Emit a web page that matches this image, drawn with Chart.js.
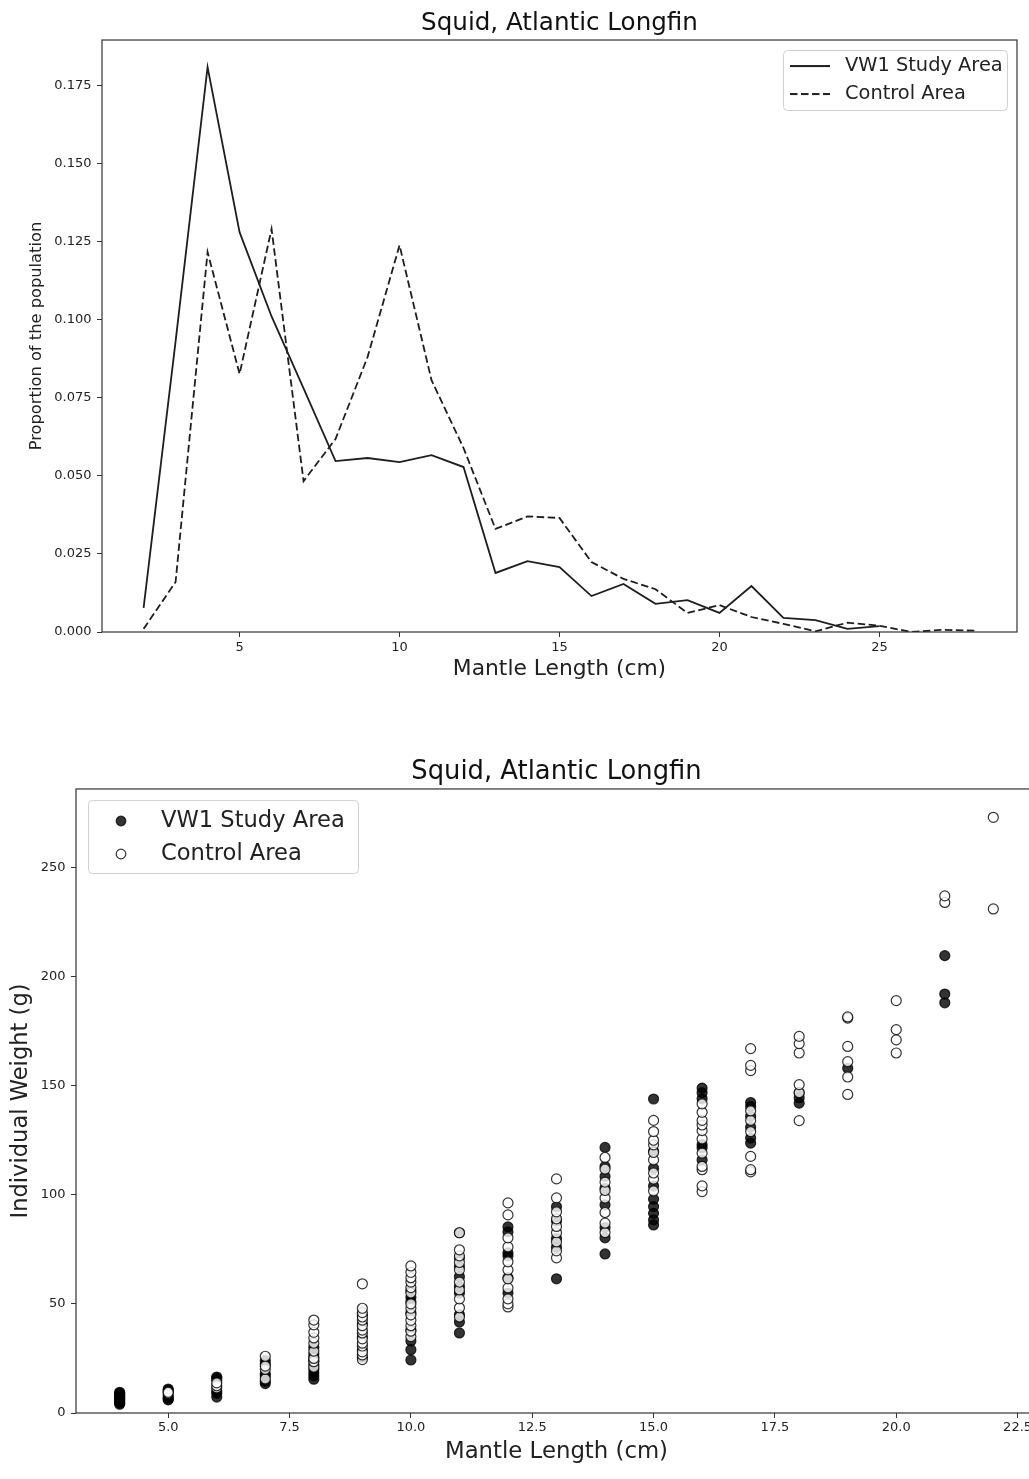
<!DOCTYPE html>
<html>
<head>
<meta charset="utf-8">
<title>Squid, Atlantic Longfin</title>
<script src="https://cdn.jsdelivr.net/npm/chart.js@4.4.1/dist/chart.umd.min.js"></script>
<style>
  html, body { margin: 0; padding: 0; background: #fff; overflow: hidden; }
  #wrap { position: relative; width: 1029px; height: 1479px; overflow: hidden; }
  #propChart { position: absolute; left: 0; top: 0; }
  #weightChart { position: absolute; left: 0; top: 740px; }
</style>
</head>
<body>
<div id="wrap">
  <canvas id="propChart" width="1029" height="700"></canvas>
  <canvas id="weightChart" width="1045" height="739"></canvas>
</div>
<script>
// length frequency (proportion of the population per cm class)
const vw1Lengths = [2, 3, 4, 5, 6, 7, 8, 9, 10, 11, 12, 13, 14, 15, 16, 17, 18, 19, 20, 21, 22, 23, 24, 25];
const vw1Prop = [0.0077, 0.093, 0.1808, 0.128, 0.101, 0.078, 0.0547, 0.0557, 0.0544, 0.0566, 0.0528, 0.0189,
    0.0227, 0.0208, 0.0115, 0.0154, 0.0090, 0.0102, 0.0061, 0.0147, 0.0045, 0.0038, 0.0010, 0.0019];
const controlLengths = [2, 3, 4, 5, 6, 7, 8, 9, 10, 11, 12, 13, 14, 15, 16, 17, 18, 19, 20, 21, 22, 23, 24, 25, 26, 27, 28];
const controlProp = [0.001, 0.016, 0.1216, 0.0826, 0.129, 0.0483, 0.0618, 0.088, 0.1238, 0.0806, 0.0589, 0.033,
    0.037, 0.0365, 0.0224, 0.017, 0.0137, 0.0061, 0.0086, 0.0048, 0.0026, 0.0002, 0.003, 0.002, 0.0, 0.0007, 0.0004];

const propXTicks = [5, 10, 15, 20, 25];
const propXLabels = ['5', '10', '15', '20', '25'];
const propYTicks = [0, 0.025, 0.05, 0.075, 0.1, 0.125, 0.15, 0.175];
const propYLabels = ['0.000', '0.025', '0.050', '0.075', '0.100', '0.125', '0.150', '0.175'];

// individual weights (g), one list per mantle length class
const weightLengths = [4, 5, 6, 7, 8, 9, 10, 11, 12, 13, 14, 15, 16, 17, 18, 19, 20, 21, 22];
const vw1Weights = [
    [4, 4.5, 5, 5.5, 6, 6.5, 7, 7.5, 8, 8.5, 9, 9.5],
    [6, 6.5, 7, 8, 10, 10.5, 11],
    [7.3, 9, 10, 15, 16, 16.5],
    [13.5, 14.5, 17, 18, 22.5, 24],
    [15.5, 17, 18.5, 20, 22, 24, 25.5, 27, 30],
    [25.5, 29, 35, 41, 45],
    [24.3, 29, 33, 38, 46, 51, 53, 56],
    [36.7, 41.7, 45, 55, 58, 62.5, 67, 71, 82.6],
    [55, 62, 72, 73.4, 83, 85.3],
    [61.5, 76, 80, 88, 94.5],
    [72.9, 80.3, 85, 95.4, 103, 108.4, 113, 121.7],
    [86.2, 88.5, 91.5, 94.6, 98, 104, 112.2, 120, 143.9],
    [116, 121.6, 123, 144, 146.8, 148.9],
    [123.7, 126, 131, 136, 140.5, 142.3],
    [142, 144.5, 146.8],
    [158],
    [],
    [188, 192, 209.6],
    []
];
const controlWeights = [
    [],
    [9, 9.5],
    [11.5, 12.5, 13.8],
    [15.6, 20, 21.5, 26],
    [21, 23.5, 25, 28.4, 32, 34.4, 37, 40.4, 42.6],
    [24.5, 26.6, 28, 30.7, 32, 34, 36.7, 38, 40, 42.6, 44, 46, 48, 59.2],
    [35, 37.5, 40, 42.5, 45, 48, 50, 55, 57.5, 60, 62, 64.5, 67.4],
    [44, 48.2, 52.3, 56.4, 60, 65.6, 69, 72, 74.8, 82.6],
    [48.6, 50, 52.3, 57.3, 61.5, 65.6, 69.3, 76.1, 80.3, 90.8, 96.3],
    [71.1, 74.3, 78.4, 82.6, 85.5, 89, 92.2, 98.6, 107.3],
    [82.7, 87, 91.9, 98.5, 102, 105.8, 111.8, 117.1],
    [101.8, 107.2, 110, 116, 119.4, 122.9, 125, 129, 134.1],
    [101.5, 104.1, 111.5, 113, 119.1, 125.6, 129.4, 132, 134.1, 137.8, 141.7],
    [110.5, 111.5, 117.6, 129, 134.1, 138.5, 156.9, 159.3, 167],
    [134, 146.8, 150.5, 165, 169.3, 172.6],
    [146, 154, 161, 168, 181, 181.5],
    [165, 171, 175.7, 189],
    [234, 237],
    [231, 273]
];

const weightXTicks = [5, 7.5, 10, 12.5, 15, 17.5, 20, 22.5];
const weightXLabels = ['5.0', '7.5', '10.0', '12.5', '15.0', '17.5', '20.0', '22.5'];
const weightYTicks = [0, 50, 100, 150, 200, 250];
const weightYLabels = ['0', '50', '100', '150', '200', '250'];

const INK = '#222';
const LINE = '#1e1e1e';
const DASH = [7.5, 3.5];
Chart.defaults.font.family = "'DejaVu Sans', sans-serif";
Chart.defaults.color = INK;

function toPoints(xs, ys) {
    return xs.map((x, i) => ({ x: x, y: ys[i] }));
}

function columnsToPoints(lengths, lists) {
    const pts = [];
    lengths.forEach((len, i) => lists[i].forEach(w => pts.push({ x: len, y: w })));
    return pts;
}

// small canvases used as legend markers
function makeMarker(fill, stroke) {
    const c = document.createElement('canvas');
    c.width = 14; c.height = 14;
    const g = c.getContext('2d');
    g.beginPath();
    g.arc(7, 7, 4.8, 0, Math.PI * 2);
    g.fillStyle = fill;
    g.fill();
    g.lineWidth = 1.2;
    g.strokeStyle = stroke;
    g.stroke();
    return c;
}

function makeLineMarker(dash) {
    const c = document.createElement('canvas');
    c.width = 40; c.height = 6;
    const g = c.getContext('2d');
    g.strokeStyle = LINE;
    g.lineWidth = 1.8;
    g.setLineDash(dash);
    g.beginPath();
    g.moveTo(0, 3);
    g.lineTo(40, 3);
    g.stroke();
    return c;
}

// full box of spines like matplotlib
const axesFrame = {
    id: 'axesFrame',
    afterDatasetsDraw(chart) {
        const { ctx, chartArea: a } = chart;
        ctx.save();
        ctx.strokeStyle = '#333';
        ctx.lineWidth = 1.2;
        ctx.strokeRect(a.left, a.top, a.right - a.left, a.bottom - a.top);
        ctx.restore();
    }
};

// put the legend inside the axes and draw its frame
function legendFrame(getFrame, itemDx, itemDy) {
    return {
        id: 'legendFrame',
        afterLayout(chart) {
            const lg = chart.legend;
            const f = getFrame(chart.chartArea);
            const pad = lg.options.labels.padding;
            lg.left = f.x + itemDx - pad;
            lg.top = f.y + itemDy - pad;
            lg.right = lg.left + lg.width;
            lg.bottom = lg.top + 400;
        },
        beforeDraw(chart) {
            const { ctx } = chart;
            const f = getFrame(chart.chartArea);
            ctx.save();
            ctx.beginPath();
            ctx.roundRect(f.x + 0.5, f.y + 0.5, f.w, f.h, 4);
            ctx.fillStyle = 'rgba(255,255,255,0.8)';
            ctx.fill();
            ctx.strokeStyle = '#d0d0d0';
            ctx.lineWidth = 1;
            ctx.stroke();
            ctx.restore();
        }
    };
}

function fixedTicks(values) {
    return scale => { scale.ticks = values.map(v => ({ value: v })); };
}

function axisGrid() {
    return { display: true, drawOnChartArea: false, drawTicks: true, tickLength: 5, tickColor: '#333', tickWidth: 1 };
}

function markerLabels(markers) {
    return chart => Chart.defaults.plugins.legend.labels.generateLabels(chart)
        .map(item => Object.assign(item, { pointStyle: markers[item.datasetIndex] }));
}

// ---- top: proportion of the population ----
const lineMarkers = [makeLineMarker([]), makeLineMarker(DASH)];

new Chart(document.getElementById('propChart'), {
    type: 'line',
    data: {
        datasets: [
            {
                label: 'VW1 Study Area',
                data: toPoints(vw1Lengths, vw1Prop),
                borderColor: LINE,
                borderWidth: 1.8,
                pointRadius: 0,
                tension: 0,
                fill: false
            },
            {
                label: 'Control Area',
                data: toPoints(controlLengths, controlProp),
                borderColor: LINE,
                borderWidth: 1.8,
                borderDash: DASH,
                pointRadius: 0,
                tension: 0,
                fill: false
            }
        ]
    },
    options: {
        responsive: false,
        animation: false,
        layout: { padding: { left: 0, right: 12, top: 0, bottom: 0 } },
        scales: {
            x: {
                type: 'linear',
                min: 0.7,
                max: 29.3,
                afterBuildTicks: fixedTicks(propXTicks),
                afterFit: s => { s.height = 68; },
                grid: axisGrid(),
                border: { display: false },
                ticks: { autoSkip: false, maxRotation: 0, padding: 2.5, font: { size: 13 }, callback: (v, i) => propXLabels[i] },
                title: { display: true, text: 'Mantle Length (cm)', font: { size: 21.8 }, padding: { top: 0, bottom: 18 } }
            },
            y: {
                type: 'linear',
                min: 0,
                max: 0.1895,
                afterBuildTicks: fixedTicks(propYTicks),
                afterFit: s => { s.width = 102; },
                grid: axisGrid(),
                border: { display: false },
                ticks: { autoSkip: false, padding: 5.5, font: { size: 13 }, callback: (v, i) => propYLabels[i] },
                title: { display: true, text: 'Proportion of the population', font: { size: 16.3 }, padding: { top: 27, bottom: 0 } }
            }
        },
        plugins: {
            title: {
                display: true,
                text: 'Squid, Atlantic Longfin',
                fullSize: false,
                color: '#111',
                font: { size: 24.6, weight: 'normal' },
                padding: { top: 9, bottom: 1.5 }
            },
            legend: {
                position: 'chartArea',
                align: 'start',
                labels: {
                    usePointStyle: true,
                    pointStyleWidth: 50.6,
                    padding: 8.6,
                    color: INK,
                    font: { size: 19.4 },
                    generateLabels: markerLabels(lineMarkers)
                }
            },
            tooltip: { enabled: false }
        }
    },
    plugins: [axesFrame, legendFrame(a => ({ x: a.right - 10 - 224, y: a.top + 10, w: 224, h: 60 }), 1.7, 6.3)]
});

// ---- bottom: individual weight vs mantle length ----
const scatterMarkers = [
    makeMarker('rgba(0,0,0,0.8)', 'rgba(0,0,0,0.8)'),
    makeMarker('#ffffff', 'rgba(0,0,0,0.8)')
];

new Chart(document.getElementById('weightChart'), {
    type: 'scatter',
    data: {
        datasets: [
            {
                label: 'VW1 Study Area',
                data: columnsToPoints(weightLengths, vw1Weights),
                backgroundColor: 'rgba(0,0,0,0.8)',
                borderColor: 'rgba(0,0,0,0.8)',
                borderWidth: 1.2,
                pointRadius: 5,
                order: 1
            },
            {
                label: 'Control Area',
                data: columnsToPoints(weightLengths, controlWeights),
                backgroundColor: 'rgba(255,255,255,0.8)',
                borderColor: 'rgba(0,0,0,0.8)',
                borderWidth: 1.2,
                pointRadius: 5,
                order: 0
            }
        ]
    },
    options: {
        responsive: false,
        animation: false,
        layout: { padding: { left: 0, right: 8, top: 0, bottom: 0 } },
        scales: {
            x: {
                type: 'linear',
                min: 3.1,
                max: 22.9,
                afterBuildTicks: fixedTicks(weightXTicks),
                afterFit: s => { s.height = 66; },
                grid: axisGrid(),
                border: { display: false },
                ticks: { autoSkip: false, maxRotation: 0, padding: 2.2, font: { size: 13 }, callback: (v, i) => weightXLabels[i] },
                title: { display: true, text: 'Mantle Length (cm)', font: { size: 22.8 }, padding: { top: 0, bottom: 13.4 } }
            },
            y: {
                type: 'linear',
                min: 0,
                max: 286,
                afterBuildTicks: fixedTicks(weightYTicks),
                afterFit: s => { s.width = 76; },
                grid: axisGrid(),
                border: { display: false },
                ticks: { autoSkip: false, padding: 5.5, font: { size: 13 }, callback: (v, i) => weightYLabels[i] },
                title: { display: true, text: 'Individual Weight (g)', font: { size: 22.6 }, padding: { top: 8, bottom: 0 } }
            }
        },
        plugins: {
            title: {
                display: true,
                text: 'Squid, Atlantic Longfin',
                fullSize: false,
                color: '#111',
                font: { size: 25.8, weight: 'normal' },
                padding: { top: 17, bottom: 1 }
            },
            legend: {
                position: 'chartArea',
                align: 'start',
                labels: {
                    usePointStyle: true,
                    pointStyleWidth: 57.4,
                    padding: 10.4,
                    color: INK,
                    font: { size: 22.6 },
                    sort: (a, b) => a.datasetIndex - b.datasetIndex,
                    generateLabels: markerLabels(scatterMarkers)
                }
            },
            tooltip: { enabled: false }
        }
    },
    plugins: [axesFrame, legendFrame(a => ({ x: a.left + 12, y: a.top + 11, w: 270, h: 73 }), 4.3, 9.7)]
});
</script>
</body>
</html>
